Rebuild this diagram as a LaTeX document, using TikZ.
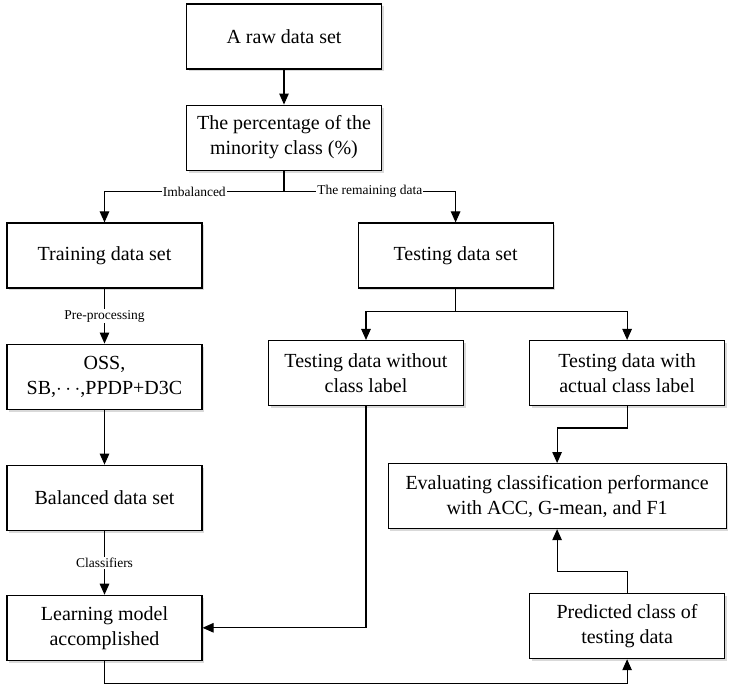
\documentclass[tikz,border=0pt]{standalone}
\usepackage{fontspec}
\setmainfont{Liberation Serif}
\usepackage{tikz}
\usetikzlibrary{arrows.meta,positioning,shadows}

\begin{document}
\begin{tikzpicture}[
    x=1pt, y=1pt,
    font=\fontsize{20}{25}\selectfont,
    stage/.style={
        rectangle,
        draw=black,
        line width=1.1pt,
        align=center,
        minimum width=195pt,
        minimum height=65pt,
        fill=white,
        drop shadow={shadow xshift=2pt, shadow yshift=-2.5pt, fill=black!25, opacity=0.6}
    },
    arrow/.style={-{Triangle[length=11pt, width=9.5pt]}, line width=1.1pt},
    tag/.style={font=\fontsize{13.5}{15}\selectfont, fill=white, inner sep=1pt}
]
\useasboundingbox (0,0) rectangle (732,-692);

\node[stage] (raw) at (284,-36.5) {A raw data set};
\node[stage, below=35pt of raw] (minority) {The percentage of the\\minority class (\%)};
\node[stage] (training) at (104.5,-255.5) {Training data set};
\node[stage, right=155pt of training] (testing) {Testing data set};
\node[stage, below=55pt of training] (resample) {OSS,\\SB,$\cdots$,PPDP+D3C};
\node[stage, below=55pt of resample] (balanced) {Balanced data set};
\node[stage, below=64pt of balanced] (learning) {Learning model\\accomplished};
\node[stage] (nolabel) at (366,-373) {Testing data without\\class label};
\node[stage, right=65pt of nolabel] (withlabel) {Testing data with\\actual class label};
\node[stage, minimum width=338pt, below=57pt of withlabel, xshift=-70pt] (evaluate) {Evaluating classification performance\\with ACC, G-mean, and F1};
\node[stage, below=64pt of evaluate, xshift=70pt] (predicted) {Predicted class of\\testing data};

\draw[arrow] (raw) -- (minority);
\draw[arrow] (minority.south) -- ++(0,-21) -| node[tag, pos=0.25] {Imbalanced} (training.north);
\draw[arrow] (minority.south) -- ++(0,-21) -| node[tag, pos=0.25] {The remaining data} (testing.north);
\draw[arrow] (training) -- node[tag] {Pre-processing} (resample);
\draw[arrow] (resample) -- (balanced);
\draw[arrow] (balanced) -- node[tag] {Classifiers} (learning);
\draw[arrow] (testing.south) -- ++(0,-23) -| (nolabel.north);
\draw[arrow] (testing.south) -- ++(0,-23) -| (withlabel.north);
\draw[arrow] (nolabel.south) |- (learning.east);
\draw[arrow] (withlabel.south) -- ++(0,-22) -| (evaluate.north);
\draw[arrow] (learning.south) -- ++(0,-23) -| (predicted.south);
\draw[arrow] (predicted.north) -- ++(0,22) -| (evaluate.south);

\end{tikzpicture}
\end{document}
